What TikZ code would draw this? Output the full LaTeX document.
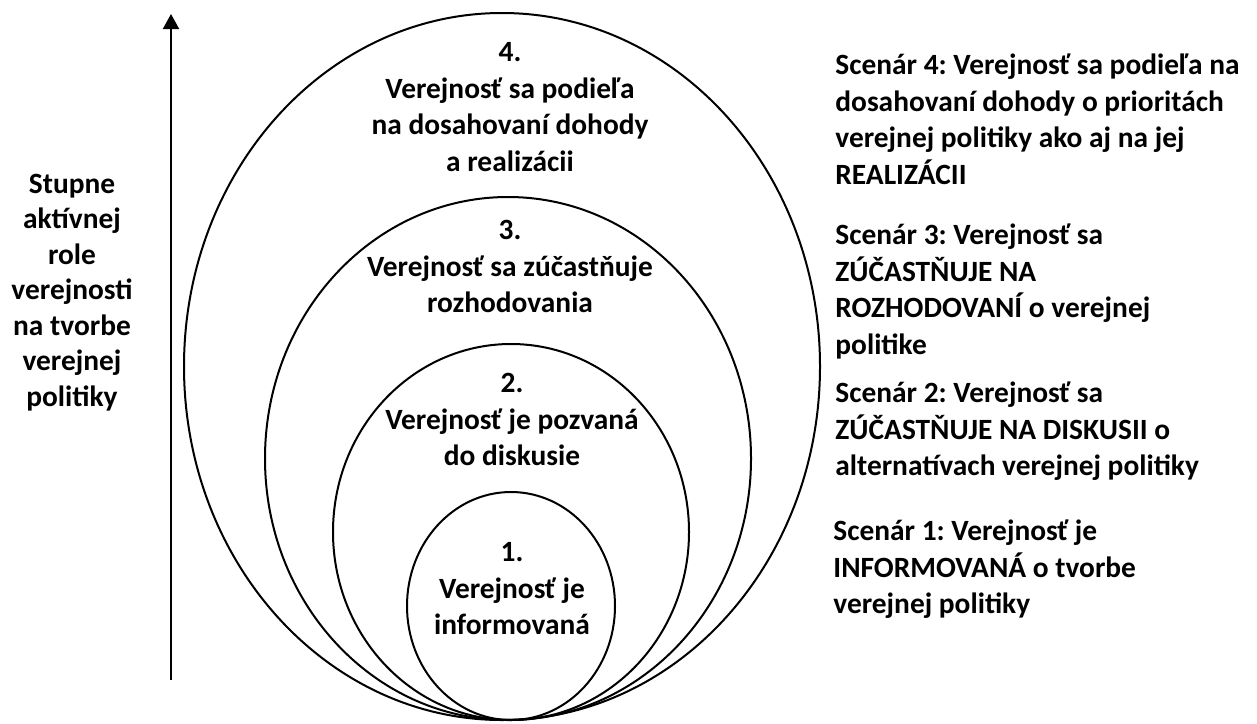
\documentclass[tikz,border=0pt]{standalone}
\usepackage{fontspec}
\setmainfont{Carlito}
\usetikzlibrary{arrows.meta}
\frenchspacing

\begin{document}
\begin{tikzpicture}[x=0.5pt,y=-0.5pt,
  level/.style={draw,line width=1pt},
  txt/.style={font=\fontsize{14.7}{18.25}\selectfont\bfseries,inner sep=0pt,align=center,anchor=north},
  scen/.style={txt,align=left,anchor=north west}]
\useasboundingbox (0,0) rectangle (1257,723);
% vrstvy zapojenia
\draw[level] (502,366.5) ellipse [x radius=318,y radius=353.5];
\draw[level] (508,458.5) ellipse [x radius=243,y radius=261.5];
\draw[level] (511,532) ellipse [x radius=178,y radius=188];
\draw[level] (511,606) ellipse [x radius=104,y radius=114];
% texty vo vrstvach
\node[txt] (l4) at (510,36) {\strut 4.\\Verejnosť sa podieľa\\na dosahovaní dohody\\a realizácii};
\node[txt] (l3) at (510,214) {\strut 3.\\Verejnosť sa zúčastňuje\\rozhodovania};
\node[txt] (l2) at (512,367) {\strut 2.\\Verejnosť je pozvaná\\do diskusie};
\node[txt] (l1) at (512,536) {\strut 1.\\Verejnosť je\\informovaná};
% os
\coordinate (osdole) at (171,680);
\coordinate (oshore) at (171,14);
\draw[line width=1pt,-{Triangle[length=7.5pt,width=8pt]}] (osdole) -- (oshore);
\node[txt,font=\fontsize{14.7}{17.75}\selectfont\bfseries] (os) at (72,168) {\strut Stupne\\aktívnej\\role\\verejnosti\\na tvorbe\\verejnej\\politiky};
% scenare
\node[scen] (s4) at (835,49) {\strut Scenár 4: Verejnosť sa podieľa na\\dosahovaní dohody o prioritách\\verejnej politiky ako aj na jej\\REALIZÁCII};
\node[scen] (s3) at (835,219) {\strut Scenár 3: Verejnosť sa\\ZÚČASTŇUJE NA\\ROZHODOVANÍ o verejnej\\politike};
\node[scen] (s2) at (835,377) {\strut Scenár 2: Verejnosť sa\\ZÚČASTŇUJE NA DISKUSII o\\alternatívach verejnej politiky};
\node[scen] (s1) at (833,515) {\strut Scenár 1: Verejnosť je\\INFORMOVANÁ o tvorbe\\verejnej politiky};
\end{tikzpicture}
\end{document}
